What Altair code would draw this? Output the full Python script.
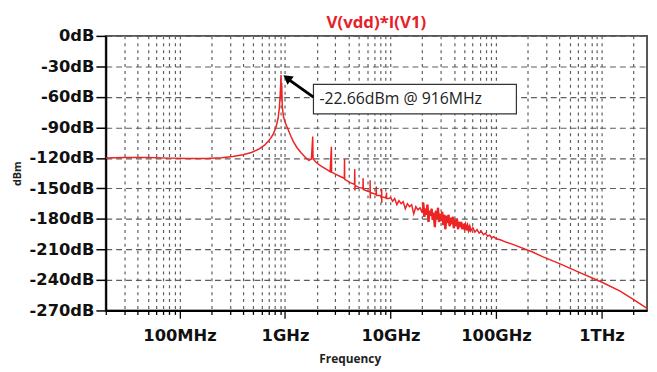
import altair as alt
import pandas as pd

# ---- main trace: flat floor, 916 MHz resonance and its harmonics (Hz, dB)
trace_freq_hz = [
    2.0e7, 3.0e7, 5.0e7, 8.0e7, 1.2e8, 1.8e8, 2.5e8, 3.2e8, 4.0e8, 4.8e8,
    5.6e8, 6.4e8, 7.1e8, 7.7e8, 8.2e8, 8.6e8, 8.85e8, 9.0e8, 9.1e8, 9.16e8,
    9.22e8, 9.3e8, 9.42e8, 9.7e8, 1.01e9, 1.07e9, 1.14e9, 1.2e9, 1.3e9, 1.42e9,
    1.56e9, 1.68e9, 1.78e9, 1.83e9, 1.845e9, 2.0e9, 2.2e9, 2.45e9, 2.68e9, 2.75e9,
    2.765e9, 3.0e9, 3.3e9, 3.65e9, 3.664e9, 3.68e9, 4.1e9, 4.56e9, 4.58e9, 4.6e9,
    4.62e9, 5.0e9, 5.48e9, 5.5e9, 5.52e9, 6.0e9, 6.4e9, 6.41e9, 6.43e9, 6.45e9,
    6.9e9, 7.3e9, 7.33e9, 7.35e9, 7.9e9, 8.22e9, 8.24e9, 8.26e9, 8.28e9, 8.8e9,
    9.14e9, 9.16e9, 9.18e9, 9.6e9,
]
trace_db = [
    -120.0, -119.6, -119.6, -120.2, -120.6, -120.6, -119.8, -118.6, -116.8, -114.6,
    -111.5, -107.5, -102.5, -97.0, -90.0, -81.0, -70.0, -58.0, -47.0, -38.5,
    -62.0, -46.0, -70.0, -80.0, -86.0, -92.0, -99.0, -104.0, -110.0, -115.0,
    -119.5, -122.5, -121.0, -99.0, -121.0, -125.0, -128.0, -131.0, -133.5, -109.0,
    -134.0, -136.0, -138.0, -140.0, -121.0, -141.0, -144.0, -146.0, -131.0, -152.0,
    -147.0, -149.0, -150.0, -140.0, -151.0, -152.5, -153.5, -142.0, -160.0, -154.0,
    -155.0, -156.0, -148.0, -157.0, -157.0, -158.0, -150.0, -164.0, -158.0, -159.0,
    -159.5, -154.0, -160.0, -160.0,
]

# ---- noisy band 10 GHz .. 126 GHz (GHz, dB)
noise_freq_ghz = [
    10.0, 10.47, 10.96, 11.48, 12.02, 12.59, 13.18, 13.80, 14.45, 15.14,
    15.85, 16.60, 17.38, 18.20, 19.05, 19.95,
    20.42, 20.89, 21.38, 21.88, 22.39, 22.91, 23.44, 23.99, 24.55, 25.12,
    25.70, 26.30, 26.92, 27.54, 28.18, 28.84, 29.51, 30.20, 30.90, 31.62,
    32.36, 33.11, 33.88, 34.67, 35.48, 36.31, 37.15, 38.02, 38.90, 39.81,
    40.74, 41.69, 42.66, 43.65, 44.67, 45.71, 46.77, 47.86, 48.98, 50.12,
    51.29, 52.48, 53.70, 54.95, 56.23, 57.54,
    60.26, 63.10, 66.07, 69.18, 72.44, 75.86, 79.43, 83.18, 87.10, 91.20,
    95.50, 100.0, 109.6, 125.9,
]
noise_db = [
    -159, -162.5, -160, -166, -162, -165, -163, -170, -165, -168,
    -166, -175, -168, -171, -169, -174,
    -164, -178, -170, -176, -166, -183, -172, -177, -170, -181,
    -174, -188, -172, -180, -169, -183, -175, -182, -173, -186,
    -176, -190, -177, -184, -176, -187, -179, -185, -178, -189,
    -181, -187, -180, -190, -183, -188, -183, -190, -185, -189,
    -186, -191, -187, -191, -188, -192,
    -188.5, -193, -190.5, -194, -192, -195.5, -194, -197, -196, -198.5,
    -197.5, -199.5, -200.5, -203,
]
dense_start, dense_end = 16, 62   # index range of the densest noise (20–58 GHz)

# ---- smooth high-frequency roll-off (Hz, dB)
tail_freq_hz = [1.44e11, 2.22e11, 2.75e11, 4.0e11, 6.0e11, 1.0e12, 1.5e12, 2.0e12, 2.7e12]
tail_db = [-205, -212.5, -217, -224, -232, -242, -251, -259, -268]

# ---- axes
x_domain = [2.0e7, 2.7e12]
y_domain = [-270, 0]
grid_freqs = [
    2e7, 3e7, 4e7, 5e7, 6e7, 7e7, 8e7, 9e7,
    1e8, 2e8, 3e8, 4e8, 5e8, 6e8, 7e8, 8e8, 9e8,
    1e9, 2e9, 3e9, 4e9, 5e9, 6e9, 7e9, 8e9, 9e9,
    1e10, 2e10, 3e10, 4e10, 5e10, 6e10, 7e10, 8e10, 9e10,
    1e11, 2e11, 3e11, 4e11, 5e11, 6e11, 7e11, 8e11, 9e11,
    1e12, 2e12,
]
decade_vals = [1e8, 1e9, 1e10, 1e11, 1e12]
decade_labels = ["100MHz", "1GHz", "10GHz", "100GHz", "1THz"]
y_ticks = [0, -30, -60, -90, -120, -150, -180, -210, -240, -270]

# ---- annotation (data units)
note_text = "-22.66dBm @ 916MHz"
box_f = [1.86e9, 1.56e11]
box_db = [-47.6, -76.7]
text_f = 2.12e9
text_db = -62.5
arrow_f = [1.86e9, 1.07e9]
arrow_db = [-60.2, -42.5]
head_f = 1.045e9
head_db = -41.3

assert len(trace_freq_hz) == len(trace_db)
assert len(noise_freq_ghz) == len(noise_db)

freq = trace_freq_hz + [g * 1e9 for g in noise_freq_ghz] + tail_freq_hz
db = trace_db + noise_db + tail_db
df = pd.DataFrame({"f": freq, "db": db, "i": list(range(len(freq)))})
dense_df = pd.DataFrame({
    "f": [g * 1e9 for g in noise_freq_ghz[dense_start:dense_end]],
    "db": noise_db[dense_start:dense_end],
    "i": list(range(dense_end - dense_start)),
})

label_expr = " : ".join(
    f"datum.value == {int(v)} ? '{l}'" for v, l in zip(decade_vals, decade_labels)
) + " : ''"
decade_list = "[" + ",".join(str(int(v)) for v in decade_vals) + "]"

x_scale = alt.Scale(type="log", domain=x_domain, nice=False)
y_scale = alt.Scale(domain=y_domain, nice=False, zero=False)

x_axis = alt.Axis(
    values=grid_freqs, labelExpr=label_expr, grid=True,
    gridDash=[3, 4], gridColor="#5e5e5e", gridWidth=1.2,
    tickColor="black", tickWidth=1.3,
    tickSize={"condition": {"test": f"indexof({decade_list}, datum.value) >= 0", "value": 8}, "value": 4},
    domainColor="black", domainWidth=2,
    labelFont="DejaVu Sans", labelFontWeight="bold", labelFontSize=16.5, labelColor="#111",
    labelPadding=9, labelFlush=False, labelOverlap=False,
    title="Frequency", titleFont="Open Sans", titleFontWeight="bold", titleFontSize=12,
    titleColor="#222", titleX=247, titleY=53, titleAlign="center", titleBaseline="alphabetic",
)
y_axis = alt.Axis(
    values=y_ticks, tickCount=40, labelExpr="datum.value + 'dB'", grid=True,
    gridDash=[6, 4], gridColor="#5e5e5e", gridWidth=1.2,
    tickColor="black", tickWidth=1.5, tickSize=10,
    domainColor="black", domainWidth=2,
    labelFont="DejaVu Sans", labelFontWeight="bold", labelFontSize=16.5, labelColor="#111",
    labelPadding=2, labelOverlap=False, labelFlush=False, minExtent=80, maxExtent=80,
    title="dBm", titleFont="Open Sans", titleFontWeight="bold", titleFontSize=11,
    titleColor="#222", titlePadding=4,
)

curve = alt.Chart(df).mark_line(color="#ee2424", strokeWidth=1.5, clip=True).encode(
    x=alt.X("f:Q", scale=x_scale, axis=x_axis),
    y=alt.Y("db:Q", scale=y_scale, axis=y_axis),
    order="i:Q",
)
dense = alt.Chart(dense_df).mark_line(color="#ee2424", strokeWidth=2.3, clip=True).encode(
    x=alt.X("f:Q", scale=x_scale),
    y=alt.Y("db:Q", scale=y_scale),
    order="i:Q",
)

box_df = pd.DataFrame({"f1": [box_f[0]], "f2": [box_f[1]], "d1": [box_db[0]], "d2": [box_db[1]]})
box = alt.Chart(box_df).mark_rect(fill="white", stroke="#333333", strokeWidth=1.2).encode(
    x=alt.X("f1:Q", scale=x_scale), x2="f2:Q",
    y=alt.Y("d1:Q", scale=y_scale), y2="d2:Q",
)
txt_df = pd.DataFrame({"f": [text_f], "db": [text_db], "t": [note_text]})
txt = alt.Chart(txt_df).mark_text(
    align="left", baseline="middle", font="Open Sans", fontSize=16, color="#222"
).encode(x=alt.X("f:Q", scale=x_scale), y=alt.Y("db:Q", scale=y_scale), text="t:N")

arr_df = pd.DataFrame({"f": arrow_f, "db": arrow_db, "k": [0, 1]})
arrow = alt.Chart(arr_df).mark_line(color="black", strokeWidth=3).encode(
    x=alt.X("f:Q", scale=x_scale), y=alt.Y("db:Q", scale=y_scale), order="k:Q"
)
head_df = pd.DataFrame({"f": [head_f], "db": [head_db]})
head = alt.Chart(head_df).mark_point(
    shape="triangle-up", filled=True, color="black", size=110, angle=307, opacity=1
).encode(x=alt.X("f:Q", scale=x_scale), y=alt.Y("db:Q", scale=y_scale))

chart = alt.layer(curve, dense, box, txt, arrow, head).properties(
    width=548, height=278,
    background="white",
    title=alt.TitleParams(
        "V(vdd)*I(V1)", color="#e8202a", font="Open Sans", fontWeight="bold",
        fontSize=17, offset=0, dy=4, anchor="middle",
    ),
    autosize=alt.AutoSizeParams(type="none"),
    padding={"left": 99, "top": 26, "right": 2, "bottom": 54},
).configure_view(stroke="#555555", strokeWidth=2)

chart.save("out.html", embed_options={"renderer": "svg", "actions": False})
